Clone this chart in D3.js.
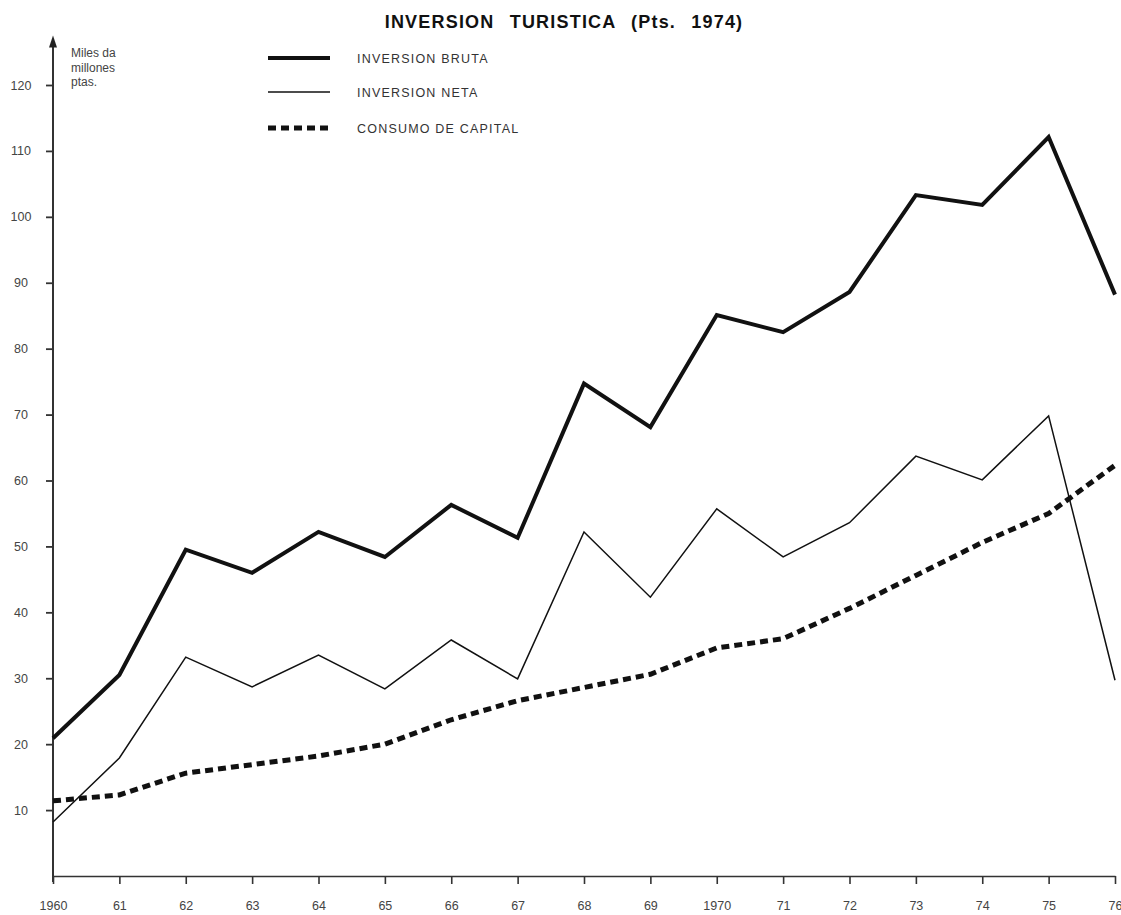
<!DOCTYPE html>
<html>
<head>
<meta charset="utf-8">
<script src="https://cdn.jsdelivr.net/npm/d3@7"></script>
<style>
  body { margin: 0; background: #fff; }
  text { font-family: "Liberation Sans", Arial, sans-serif; }
</style>
</head>
<body>
<div id="chart"></div>
<script>
// years on the x axis and the three series (miles de millones ptas.)
var years = [1960, 1961, 1962, 1963, 1964, 1965, 1966, 1967, 1968, 1969, 1970, 1971, 1972, 1973, 1974, 1975, 1976];
var inversionBruta = [20.9, 30.5, 49.5, 46.0, 52.2, 48.4, 56.3, 51.3, 74.7, 68.1, 85.1, 82.5, 88.6, 103.3, 101.8, 112.1, 88.2];
var inversionNeta = [8.2, 17.9, 33.2, 28.7, 33.5, 28.4, 35.8, 29.9, 52.2, 42.3, 55.7, 48.4, 53.6, 63.7, 60.1, 69.8, 29.7];
var consumoCapital = [11.4, 12.3, 15.6, 16.9, 18.2, 20.0, 23.7, 26.6, 28.6, 30.6, 34.6, 36.0, 40.6, 45.6, 50.6, 55.0, 62.3];
var yTicks = [10, 20, 30, 40, 50, 60, 70, 80, 90, 100, 110, 120];
var legendNames = ["INVERSION BRUTA", "INVERSION NETA", "CONSUMO DE CAPITAL"];

var svgWidth = 1121;
var svgHeight = 915;

var svg = d3.select("#chart")
    .append("svg")
    .attr("width", svgWidth)
    .attr("height", svgHeight);

svg.append("rect")
    .attr("width", svgWidth)
    .attr("height", svgHeight)
    .attr("fill", "#fff");

var xScale = d3.scaleLinear()
    .domain([1960, 1976])
    .range([53, 1115]);

var yScale = d3.scaleLinear()
    .domain([0, 120])
    .range([876, 85]);

// title
svg.append("text")
    .attr("x", 564)
    .attr("y", 28)
    .attr("text-anchor", "middle")
    .attr("font-size", "18px")
    .attr("font-weight", "bold")
    .attr("letter-spacing", "1.2px")
    .attr("word-spacing", "9px")
    .attr("fill", "#111")
    .text("INVERSION TURISTICA (Pts. 1974)");

// x axis
var xAxis = d3.axisBottom(xScale)
    .tickValues(years)
    .tickSize(8)
    .tickSizeOuter(0)
    .tickPadding(17)
    .tickFormat(d => (d == 1960 || d == 1970) ? String(d) : String(d).slice(2));

var xg = svg.append("g")
    .attr("transform", `translate(0, ${yScale(0)})`)
    .call(xAxis);
xg.select(".domain").attr("stroke", "#333").attr("stroke-width", 1.6);
xg.selectAll(".tick line").attr("stroke", "#333").attr("stroke-width", 1.6);
xg.selectAll(".tick text")
    .attr("font-size", "12.5px")
    .attr("fill", "#444")
    .style("font-family", "'Liberation Sans', Arial, sans-serif");

// y axis with arrow on top
var yAxis = d3.axisLeft(yScale)
    .tickValues(yTicks)
    .tickSize(7)
    .tickSizeOuter(0)
    .tickFormat(d => d);

var yg = svg.append("g")
    .attr("transform", `translate(${xScale(1960)}, 0)`)
    .call(yAxis);
yg.select(".domain").remove();
yg.selectAll(".tick line").attr("stroke", "#333").attr("stroke-width", 1.8);
yg.selectAll(".tick text")
    .attr("x", -32)
    .attr("text-anchor", "middle")
    .attr("font-size", "12.5px")
    .attr("fill", "#444")
    .style("font-family", "'Liberation Sans', Arial, sans-serif");

var yTop = yScale(127.5);
svg.append("line")
    .attr("x1", xScale(1960))
    .attr("x2", xScale(1960))
    .attr("y1", yScale(0) + 6)
    .attr("y2", yTop + 6)
    .attr("stroke", "#333")
    .attr("stroke-width", 2);

svg.append("path")
    .attr("d", `M${xScale(1960)},${yTop} l-4,12 l8,0 z`)
    .attr("fill", "#222");

// unit label
var unitLines = ["Miles da", "millones", "ptas."];
svg.append("g")
    .selectAll("text")
    .data(unitLines)
    .enter()
    .append("text")
    .attr("x", 71)
    .attr("y", (d, i) => 57 + i * 14.5)
    .attr("font-size", "12px")
    .attr("fill", "#444")
    .text(d => d);

// series lines
var line = d3.line()
    .x((d, i) => xScale(years[i]))
    .y(d => yScale(d));

var seriesList = [
    { values: inversionBruta, width: 4, dash: null },
    { values: inversionNeta, width: 1.5, dash: null },
    { values: consumoCapital, width: 5, dash: "8,5" }
];

svg.append("g")
    .selectAll("path")
    .data(seriesList)
    .enter()
    .append("path")
    .attr("d", d => line(d.values))
    .attr("fill", "none")
    .attr("stroke", "#111")
    .attr("stroke-width", d => d.width)
    .attr("stroke-dasharray", d => d.dash)
    .attr("stroke-linejoin", "miter");

// legend
var legend = svg.append("g");
var legendY = [58, 92, 128];

legend.selectAll("line")
    .data(seriesList)
    .enter()
    .append("line")
    .attr("x1", 268)
    .attr("x2", 330)
    .attr("y1", (d, i) => legendY[i])
    .attr("y2", (d, i) => legendY[i])
    .attr("stroke", "#111")
    .attr("stroke-width", d => d.width)
    .attr("stroke-dasharray", d => d.dash);

legend.selectAll("text")
    .data(legendNames)
    .enter()
    .append("text")
    .attr("x", 357)
    .attr("y", (d, i) => legendY[i] + 4.5)
    .attr("font-size", "12.5px")
    .attr("letter-spacing", "1.2px")
    .attr("fill", "#333")
    .text(d => d);
</script>
</body>
</html>
